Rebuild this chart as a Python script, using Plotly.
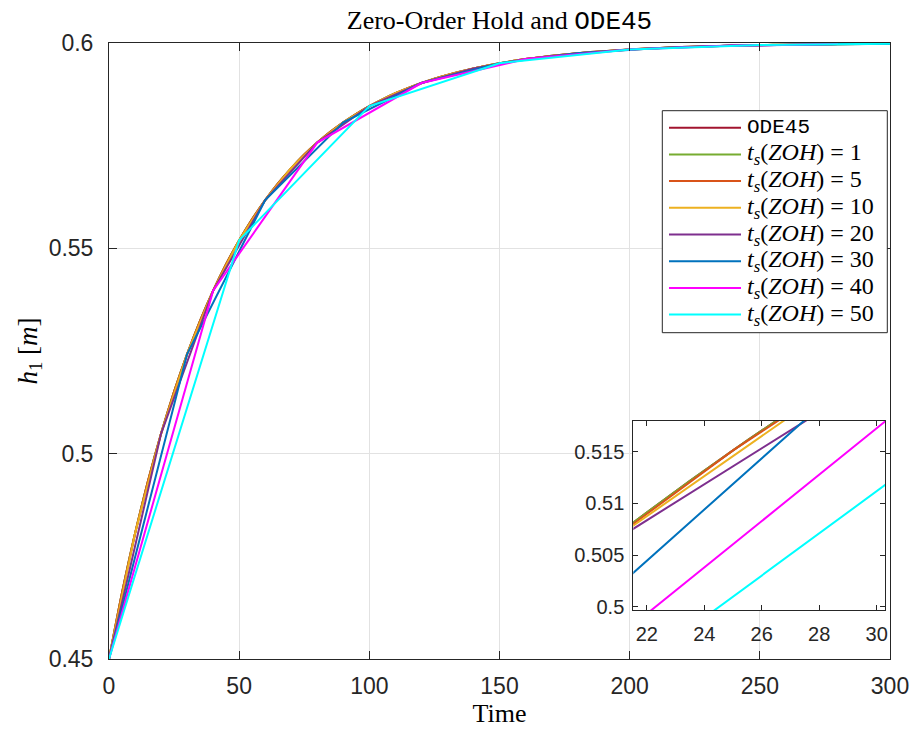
import plotly.graph_objects as go

# Tank level h1 response, sampled every 5 s
t_grid = list(range(0, 301, 5))
h1_ode45 = [
    0.45000, 0.46615, 0.48056, 0.49341, 0.50489, 0.51513, 0.52426, 0.53242,
    0.53969, 0.54618, 0.55198, 0.55715, 0.56176, 0.56587, 0.56955, 0.57283,
    0.57575, 0.57836, 0.58069, 0.58277, 0.58462, 0.58628, 0.58776, 0.58907,
    0.59025, 0.59130, 0.59224, 0.59307, 0.59382, 0.59448, 0.59508, 0.59561,
    0.59608, 0.59650, 0.59688, 0.59721, 0.59751, 0.59778, 0.59802, 0.59823,
    0.59842, 0.59859, 0.59874, 0.59888, 0.59900, 0.59911, 0.59920, 0.59929,
    0.59937, 0.59944, 0.59950, 0.59955, 0.59960, 0.59964, 0.59968, 0.59971,
    0.59974, 0.59977, 0.59980, 0.59982, 0.59984,
]

# Zero-order-hold sample periods (s)
zoh_periods = [1, 5, 10, 20, 30, 40, 50]

series_labels = [
    "<span style='font-family:Liberation Mono'>ODE45</span>",
] + [f"<i>t</i><sub><i>s</i></sub>(<i>ZOH</i>) = {p}" for p in zoh_periods]

series_colors = ["#A2142F", "#77AC30", "#D95319", "#EDB120",
                 "#7E2F8E", "#0072BD", "#FF00FF", "#00FFFF"]

x_ticks = [0, 50, 100, 150, 200, 250, 300]
y_ticks = [0.45, 0.5, 0.55, 0.6]
y_tick_text = ["0.45", "0.5", "0.55", "0.6"]
inset_x_ticks = [22, 24, 26, 28, 30]
inset_y_ticks = [0.5, 0.505, 0.51, 0.515]
inset_y_tick_text = ["0.5", "0.505", "0.51", "0.515"]

# Build per-series sample sets
lookup = dict(zip(t_grid, h1_ode45))
series = [(t_grid, h1_ode45, "spline")]
for p in zoh_periods:
    if p < 5:
        series.append((t_grid, h1_ode45, "spline"))
    else:
        ts = [t for t in t_grid if t % p == 0]
        series.append((ts, [lookup[t] for t in ts], "linear"))

# Page geometry (pixels)
W, H = 913, 730
L, R, T, B = 109, 23, 43, 71
pw, ph = W - L - R, H - T - B


def px_x(x):
    return (x - L) / pw


def px_y(y):
    return (H - B - y) / ph


fig = go.Figure()
for (xs, ys, shape), col in zip(series, series_colors):
    for xa, ya in (("x", "y"), ("x2", "y2")):
        fig.add_trace(go.Scatter(
            x=xs, y=ys, mode="lines", xaxis=xa, yaxis=ya,
            line=dict(color=col, width=2, shape=shape),
            showlegend=False, hoverinfo="skip",
        ))

axis_col = "#262626"
tick_font = dict(family="Liberation Sans, Arial, sans-serif", size=23, color=axis_col)
inset_font = dict(family="Liberation Sans, Arial, sans-serif", size=20, color=axis_col)
serif = "Liberation Serif, Times New Roman, serif"

fig.update_layout(
    width=W, height=H,
    margin=dict(l=L, r=R, t=T, b=B, autoexpand=False),
    paper_bgcolor="white", plot_bgcolor="white",
    title=dict(
        text="Zero-Order Hold and <span style='font-family:Liberation Mono'>ODE45</span>",
        font=dict(family=serif, size=26, color="black"),
        x=px_x((L + W - R) / 2), xref="paper", xanchor="center",
        y=1 - 20 / H, yref="container", yanchor="middle",
    ),
    xaxis=dict(
        range=[0, 300], tickvals=x_ticks, ticktext=[str(v) for v in x_ticks],
        showline=True, linecolor=axis_col, linewidth=1, mirror="ticks",
        ticks="inside", ticklen=8, tickcolor=axis_col,
        showgrid=True, gridcolor="#e2e2e2", gridwidth=1, zeroline=False,
        tickfont=tick_font, ticklabelstandoff=6,
        title=dict(text="Time", font=dict(family=serif, size=26, color="black"),
                   standoff=6),
    ),
    yaxis=dict(
        range=[0.45, 0.6], tickvals=y_ticks, ticktext=y_tick_text,
        showline=True, linecolor=axis_col, linewidth=1, mirror="ticks",
        ticks="inside", ticklen=8, tickcolor=axis_col,
        showgrid=True, gridcolor="#e2e2e2", gridwidth=1, zeroline=False,
        tickfont=tick_font, ticklabelstandoff=10,
        title=dict(text="<i>h</i><sub>1</sub> [<i>m</i>]",
                   font=dict(family=serif, size=27, color="black"),
                   standoff=3),
    ),
    xaxis2=dict(
        domain=[px_x(633.3), px_x(885.0)], anchor="y2",
        range=[21.53, 30.29], tickvals=inset_x_ticks,
        ticktext=[str(v) for v in inset_x_ticks],
        showline=True, linecolor=axis_col, linewidth=1, mirror="ticks",
        ticks="inside", ticklen=5, tickcolor=axis_col,
        showgrid=False, zeroline=False, tickfont=inset_font, ticklabelstandoff=6,
    ),
    yaxis2=dict(
        domain=[px_y(610.0), px_y(420.7)], anchor="x2",
        range=[0.4997, 0.518], tickvals=inset_y_ticks, ticktext=inset_y_tick_text,
        showline=True, linecolor=axis_col, linewidth=1, mirror="ticks",
        ticks="inside", ticklen=5, tickcolor=axis_col,
        showgrid=False, zeroline=False, tickfont=inset_font, ticklabelstandoff=4,
    ),
)

# Legend box drawn in the upper right of the main axes
box_l, box_r, box_t, box_b = 662.3, 887.3, 110.7, 332.7
fig.add_shape(type="rect", xref="paper", yref="paper",
              x0=px_x(box_l), x1=px_x(box_r), y0=px_y(box_b), y1=px_y(box_t),
              line=dict(color=axis_col, width=1), fillcolor="white", layer="above")
row0, row_step = 127.7, 26.7
for i, (label, col) in enumerate(zip(series_labels, series_colors)):
    yc = row0 + i * row_step
    fig.add_shape(type="line", xref="paper", yref="paper",
                  x0=px_x(669), x1=px_x(741), y0=px_y(yc), y1=px_y(yc),
                  line=dict(color=col, width=2), layer="above")
    fig.add_annotation(
        text=label, xref="paper", yref="paper", x=px_x(745), y=px_y(yc),
        xanchor="left", yanchor="middle", showarrow=False,
        font=dict(family=serif, size=24 if i else 21, color="black"),
    )

fig.write_html("out.html")
